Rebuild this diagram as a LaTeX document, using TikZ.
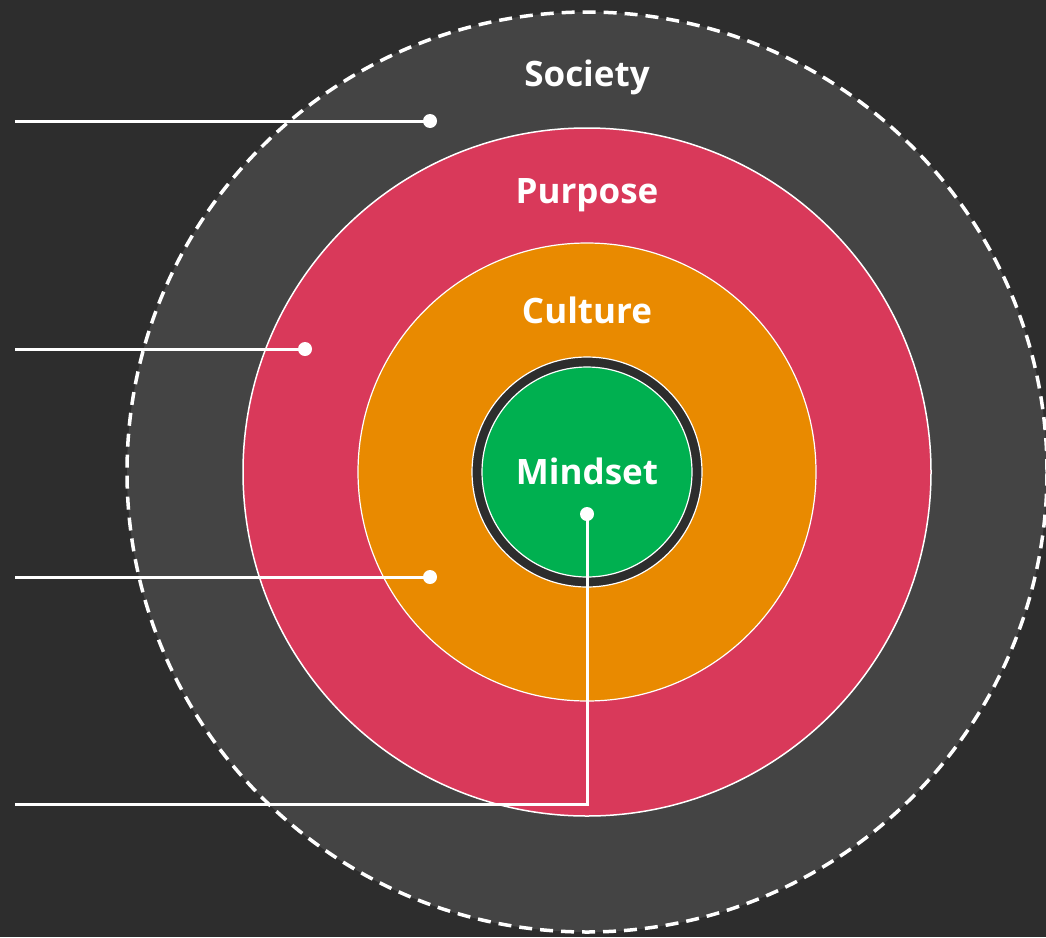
\documentclass[tikz,border=0pt]{standalone}
\usepackage{fontspec}
\setmainfont{Open Sans}
\definecolor{bgdark}{HTML}{2D2D2D}
\definecolor{societygray}{HTML}{444444}
\definecolor{purposered}{HTML}{D9395A}
\definecolor{cultureorange}{HTML}{E98A00}
\definecolor{mindsetgreen}{HTML}{00B050}
\begin{document}
\begin{tikzpicture}[x=1pt,y=-1pt,
  ring/.style={circle,inner sep=0pt,draw=white},
  label/.style={text=white,anchor=base,font=\fontsize{35}{40}\selectfont\bfseries},
  dot/.style={circle,fill=white,inner sep=0pt,minimum size=14pt},
  leader/.style={draw=white,line width=3pt}]
  \fill[bgdark] (0,0) rectangle (1046,937);
  \useasboundingbox (0,0) rectangle (1046,937);
  % nested circles
  \node[ring,fill=societygray,minimum size=920pt,line width=3.5pt,dash pattern=on 13pt off 8pt] (society) at (587,472) {};
  \node[ring,fill=purposered,minimum size=688pt,line width=1.5pt] (purpose) at (587,472) {};
  \node[ring,fill=cultureorange,minimum size=458pt,line width=1.2pt] (culture) at (587,472) {};
  \node[ring,fill=bgdark,minimum size=230pt,line width=1.2pt] (band) at (587,472) {};
  \node[ring,fill=mindsetgreen,minimum size=210pt,line width=1.2pt] (mindset) at (587,472) {};
  % titles
  \node[label] (tsociety) at (587,86) {Society};
  \node[label] (tpurpose) at (587,203) {Purpose};
  \node[label] (tculture) at (587,323) {Culture};
  \node[label] (tmindset) at (587,484) {Mindset};
  % leader lines
  \coordinate (e1) at (15,121);
  \coordinate (e2) at (15,349);
  \coordinate (e3) at (15,577);
  \coordinate (e4) at (15,804);
  \node[dot] (d1) at (430,121) {};
  \node[dot] (d2) at (305,349) {};
  \node[dot] (d3) at (430,577) {};
  \node[dot] (d4) at (587,514) {};
  \draw[leader] (e1) -- (d1.center);
  \draw[leader] (e2) -- (d2.center);
  \draw[leader] (e3) -- (d3.center);
  \draw[leader] (e4) -| (d4.center);
\end{tikzpicture}
\end{document}
